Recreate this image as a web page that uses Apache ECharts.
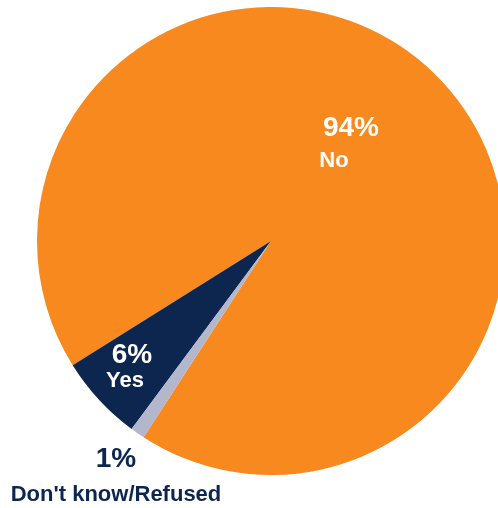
<!DOCTYPE html>
<html>
<head>
<meta charset="utf-8">
<script src="https://cdn.jsdelivr.net/npm/echarts@6/dist/echarts.min.js"></script>
<style>
  html, body { margin: 0; padding: 0; background: #fff; }
  #chart { width: 498px; height: 508px; }
</style>
</head>
<body>
<div id="chart"></div>
<script>
  // data
  var names = ['No', 'Yes', "Don't know/Refused"];
  var values = [94, 6, 1];
  var pctLabels = ['94%', '6%', '1%'];
  var colors = ['#F7891F', '#0C2650', '#B3B7CC'];
  var labelColors = ['#ffffff', '#ffffff', '#0C2650'];
  // where each label pair sits: [pct x, pct y, name x, name y]
  var labelPos = [
    [351, 128, 334, 161],
    [132, 355, 125, 381],
    [116, 459, 116, 495]
  ];

  var myChart = echarts.init(document.getElementById('chart'));

  var pieData = [];
  for (var i = 0; i < names.length; i++) {
    pieData.push({ name: names[i], value: values[i], itemStyle: { color: colors[i] } });
  }

  var texts = [];
  for (var j = 0; j < names.length; j++) {
    var p = labelPos[j];
    texts.push({
      type: 'text', x: p[0], y: p[1], z: 10,
      style: { text: pctLabels[j], fill: labelColors[j], font: 'bold 28px "Liberation Sans", Arial, sans-serif', align: 'center', verticalAlign: 'middle' }
    });
    texts.push({
      type: 'text', x: p[2], y: p[3], z: 10,
      style: { text: names[j], fill: labelColors[j], font: 'bold 22px "Liberation Sans", Arial, sans-serif', align: 'center', verticalAlign: 'middle' }
    });
  }

  myChart.setOption({
    animation: false,
    series: [{
      type: 'pie',
      center: [271, 241],
      radius: 234,
      startAngle: 237,
      clockwise: false,
      label: { show: false },
      labelLine: { show: false },
      itemStyle: { borderWidth: 0 },
      emphasis: { disabled: true },
      data: pieData
    }],
    graphic: texts
  });
</script>
</body>
</html>
